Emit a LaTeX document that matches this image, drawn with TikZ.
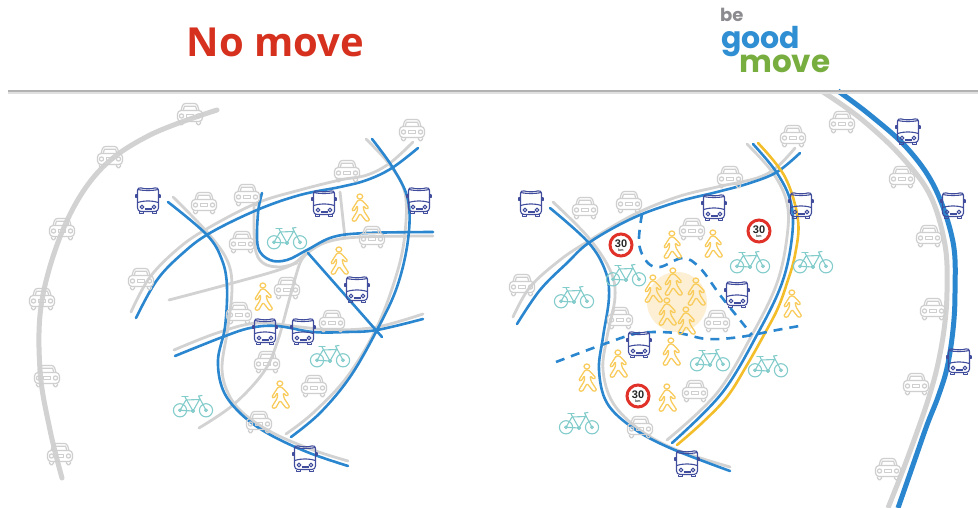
\documentclass[tikz,border=0pt]{standalone}
\usepackage{fontspec}
\setmainfont{Liberation Sans}
\newfontfamily\titlefont{Open Sans}
\newfontfamily\logofont{Poppins}
\definecolor{roadgrey}{HTML}{D2D2D2}
\definecolor{roadblue}{HTML}{2A86CE}
\definecolor{caredge}{HTML}{CFCFCF}
\definecolor{busedge}{HTML}{404C9C}
\definecolor{pededge}{HTML}{F8CB5A}
\definecolor{bikeedge}{HTML}{82CCCB}
\definecolor{roadyellow}{HTML}{F4BE2A}
\definecolor{signred}{HTML}{E1322A}
\definecolor{titlered}{HTML}{D6311E}
\definecolor{logoblue}{HTML}{2F8FD2}
\definecolor{logogreen}{HTML}{77AE3F}
\definecolor{logogrey}{HTML}{8C8C90}
\definecolor{glow}{HTML}{FDEFD3}
\tikzset{
 greyroad/.style={draw=roadgrey,line width=2.8pt,line cap=round,line join=round},
 blueroad/.style={draw=roadblue,line width=2.6pt,line cap=round,line join=round},
 yellowroad/.style={draw=roadyellow,line width=2.6pt,line cap=round},
 dashroad/.style={draw=roadblue,line width=2.6pt,dash pattern=on 9pt off 7pt},
 bigroad/.style={line width=5pt},
 car/.pic={
  \begin{scope}[draw=caredge,line width=1.2pt,line join=round]
   \draw[rounded corners=2.5pt] (-9,-3.5) -- (-7,-10.5) -- (7,-10.5) -- (9,-3.5);
   \draw (-6.8,-3.5) -- (-5.6,-7.8) -- (5.6,-7.8) -- (6.8,-3.5);
   \draw[rounded corners=3.5pt] (-12.5,-3.5) rectangle (12.5,7.5);
   \draw[rounded corners=1.6pt] (-10.5,7.5) -- (-10.5,10.8) -- (-6.5,10.8) -- (-6.5,7.5);
   \draw[rounded corners=1.6pt] (6.5,7.5) -- (6.5,10.8) -- (10.5,10.8) -- (10.5,7.5);
   \draw (-8.5,2) circle[radius=2.1] (8.5,2) circle[radius=2.1];
   \draw (-3.8,0.2) rectangle (3.8,3.8);
  \end{scope}},
 bus/.pic={
  \begin{scope}[draw=busedge,line width=1.1pt,line join=round]
   \draw[rounded corners=3.5pt] (-10.5,-13) to[out=-15,in=195] (10.5,-13) -- (10.5,11.5) -- (-10.5,11.5) -- cycle;
   \draw (-10.5,-10.5) to[out=-10,in=190] (10.5,-10.5);
   \draw (-10.5,2.5) to[out=15,in=165] (10.5,2.5);
   \draw (-3.5,9) -- (3.5,9);
   \draw (-6,7) circle[radius=1.9] (6,7) circle[radius=1.9];
   \draw (-8.5,11.5) -- (-8.5,13.5) -- (-4.5,13.5) -- (-4.5,11.5);
   \draw (4.5,11.5) -- (4.5,13.5) -- (8.5,13.5) -- (8.5,11.5);
   \draw (-10.5,-5) -- (-12,-5) -- (-12,-2.5) -- (-10.5,-2.5);
   \draw (10.5,-5) -- (12,-5) -- (12,-2.5) -- (10.5,-2.5);
  \end{scope}},
 ped/.pic={
  \begin{scope}[draw=pededge,line width=1.25pt,line join=round,xscale=1.14]
   \draw (-1,-11.5) circle[radius=2.5];
   \draw[rounded corners=1.2pt] (-2.5,-8) -- (0.5,-8) -- (6.8,-0.5) -- (5.2,1.3) -- (1.8,-2.2) -- (2.6,3)
     -- (7.8,12.2) -- (4.8,13.6) -- (-0.8,5.5) -- (-5,13.6) -- (-8.3,12.4) -- (-3.2,3) -- (-3,-2.5)
     -- (-6.2,3.2) -- (-8.2,2.2) -- cycle;
  \end{scope}},
 bike/.pic={
  \begin{scope}[draw=bikeedge,line width=1.1pt,line join=round,line cap=round]
   \draw (-13,4.3) circle[radius=6.6] (13,4.3) circle[radius=6.6];
   \draw (-13,4.3) circle[radius=1.4] (13,4.3) circle[radius=1.4];
   \draw (-13,4.3) -- (-7,-6) -- (6.5,-6.5) -- (0,5) -- cycle;
   \draw (-8,-9) -- (0,5);
   \draw (13,4.3) -- (5.5,-10) -- (9,-10.5);
   \draw (-11,-9.8) -- (-5,-9.8);
   \draw (0,5) circle[radius=1.5];
  \end{scope}},
 speedsign/.pic={
  \draw[signred,fill=white,line width=3pt] (0,0) circle[radius=11];
  \node[font=\bfseries\fontsize{11}{11}\selectfont,text=black!85,inner sep=0pt] (-num) at (0,-1.6) {30};
  \node[font=\bfseries\fontsize{3.6}{4}\selectfont,text=black!85,inner sep=0pt] (-unit) at (0,5.2) {km};
 }
}
\begin{document}
\begin{tikzpicture}[x=1pt,y=-1pt]
\useasboundingbox (0,0) rectangle (978,508);
\fill[white] (0,0) rectangle (978,508);
\fill[glow] (677,302) circle[radius=30];

% titles
\node[font=\titlefont\bfseries\fontsize{40}{40}\selectfont,text=titlered,inner sep=0pt] (title) at (275.5,42.5) {No move};
\node[font=\logofont\bfseries\fontsize{18}{18}\selectfont,text=logogrey,inner sep=0pt,anchor=base west] (logobe) at (720,22) {be};
\node[font=\logofont\bfseries\fontsize{30}{30}\selectfont,text=logoblue,inner sep=0pt,anchor=base west] (logogood) at (721,49) {good};
\node[font=\logofont\bfseries\fontsize{31}{31}\selectfont,text=logogreen,inner sep=0pt,anchor=base west] (logomove) at (739,73) {move};

% far-left road
\draw[greyroad,bigroad] plot[smooth,tension=.6] coordinates {(217,110)(150,135)(100,170)(65,225)(42,300)(40,370)(50,430)(62,478)};

% left network, grey
\draw[greyroad] plot[smooth,tension=.6] coordinates {(131,312)(150,277)(180,247)(210,227)(257,203)(300,190)(340,180)(367,175)(390,163)(413,142)};
\draw[greyroad] plot[smooth,tension=.6] coordinates {(173,197)(207,232)(227,260)(232,287)(228,327)(222,367)(228,393)(243,413)(273,433)(313,450)(348,461)};
\draw[greyroad] plot[smooth,tension=.6] coordinates {(366,139)(390,165)(405,193)(405,233)(397,273)(377,327)(347,377)(313,413)(286,434)};
\draw[greyroad] plot[smooth,tension=.6] coordinates {(174,350)(217,333)(257,323)(300,327)(333,330)(377,327)(423,314)};
\draw[greyroad] plot[smooth,tension=.6] coordinates {(169,300)(233,283)(287,267)(307,253)(327,242)(360,237)(433,236)};
\draw[greyroad] plot[smooth,tension=.6] coordinates {(254,207)(255,247)(263,263)(280,267)(297,263)};
\draw[greyroad] plot[smooth,tension=.6] coordinates {(199,428)(233,405)(263,373)(277,343)(290,297)(300,263)(308,253)};
\draw[greyroad] plot[smooth,tension=.6] coordinates {(340,192)(345,238)};
% left network, blue
\draw[blueroad] plot[smooth,tension=.6] coordinates {(136,318)(157,280)(183,253)(210,233)(257,210)(300,195)(340,187)(367,180)(392,168)(418,148)};
\draw[blueroad] plot[smooth,tension=.6] coordinates {(168,202)(207,235)(222,260)(227,287)(225,327)(218,360)(223,390)(240,413)(267,433)(307,452)(348,466)};
\draw[blueroad] plot[smooth,tension=.6] coordinates {(372,139)(393,168)(408,200)(408,240)(397,287)(377,330)(350,377)(320,413)(291,437)};
\draw[blueroad] plot[smooth,tension=.6] coordinates {(175,356)(220,338)(250,328)(277,326)(313,332)(347,332)(377,330)(423,319)};
\draw[blueroad] plot[smooth,tension=.6] coordinates {(262,193)(258,213)(258,247)(270,260)(287,260)(307,250)(333,237)(367,233)(433,232)};
\draw[blueroad] plot coordinates {(308,253)(382,337)};

% right network
\draw[greyroad] plot[smooth,tension=.6] coordinates {(513,317)(530,287)(560,260)(587,242)(633,215)(677,197)(717,187)(757,178)(777,167)(795,148)};
\draw[greyroad] plot[smooth,tension=.6] coordinates {(553,202)(588,237)(610,270)(615,297)(607,337)(603,370)(613,403)(640,430)(677,450)(730,467)};
\draw[greyroad] plot[smooth,tension=.6] coordinates {(747,144)(773,173)(787,203)(787,237)(777,283)(753,333)(717,393)(667,440)};
\draw[blueroad] plot[smooth,tension=.6] coordinates {(517,324)(540,290)(567,263)(590,242)(633,218)(677,202)(717,192)(750,183)(777,172)(800,153)};
\draw[blueroad] plot[smooth,tension=.6] coordinates {(550,208)(588,242)(605,270)(609,297)(603,337)(599,370)(607,403)(633,428)(670,448)(730,471)};
\draw[blueroad] plot[smooth,tension=.6] coordinates {(753,144)(777,173)(791,203)(792,237)(782,283)(758,333)(722,393)(672,443)};
\draw[yellowroad] plot[smooth,tension=.6] coordinates {(758,143)(785,177)(798,220)(795,255)(787,283)(778,308)(765,333)(747,365)(727,397)(702,423)(677,445)};
\draw[dashroad] plot[smooth,tension=.6] coordinates {(642,214)(639,243)(647,262)(660,267)(683,258)(700,268)(720,295)(740,320)(752,335)};
\draw[dashroad] plot[smooth,tension=.6] coordinates {(556,362)(607,343)(640,333)(677,333)(707,339)(740,337)(777,330)(805,325)};

% far-right roads
\draw[greyroad,bigroad,line cap=butt] plot[smooth,tension=.6] coordinates {(823,92)(860,118)(900,155)(930,195)(945,245)(947,292)(944,330)(937,368)(928,400)(917,432)(903,470)(888,508)};
\draw[blueroad,bigroad,line cap=butt] plot[smooth,tension=.6] coordinates {(838,91)(870,115)(907,148)(935,188)(953,242)(955,292)(953,330)(947,368)(938,397)(927,425)(913,465)(898,508)};

% header rule
\draw[draw=black!12,line width=3pt] (8,93) -- (978,93);
\draw[draw=black!30,line width=1.6pt] (8,91) -- (978,91);

% icons
\foreach \x/\y in {190/114,110/157,412/130,347/171,204/203,247/195,242/242,372/237,141/279,287/288,239/313,332/321,267/362,314/386,259/422,62/229,42/299,47/376,60/454,
 793/136,730/177,585/208,629/202,692/229,522/285,620/318,717/321,695/391,640/427,
 842/122,902/177,929/236,933/309,916/384,888/469}
 \pic at (\x,\y) {car};
\foreach \x/\y in {148/200,324/203,419/200,357/289,265/331,303/331,305/458,
 531/203,714/207,801/205,737/294,639/344,687/463,908/131,953/205,959/361}
 \pic at (\x,\y) {bus};
\foreach \x/\y in {361/208,340/261,264/297,281/395,
 673/245,714/244,654/289,674/282,697/292,668/312,687/321,672/352,619/364,588/378,668/398,793/304}
 \pic at (\x,\y) {ped};
\foreach \x/\y in {287/238,330/356,193/406,
 626/275,574/297,750/262,813/262,710/360,768/366,579/423}
 \pic at (\x,\y) {bike};
\pic (signa) at (621,245) {speedsign};
\pic (signb) at (759,231) {speedsign};
\pic (signc) at (638,396) {speedsign};
\end{tikzpicture}
\end{document}
